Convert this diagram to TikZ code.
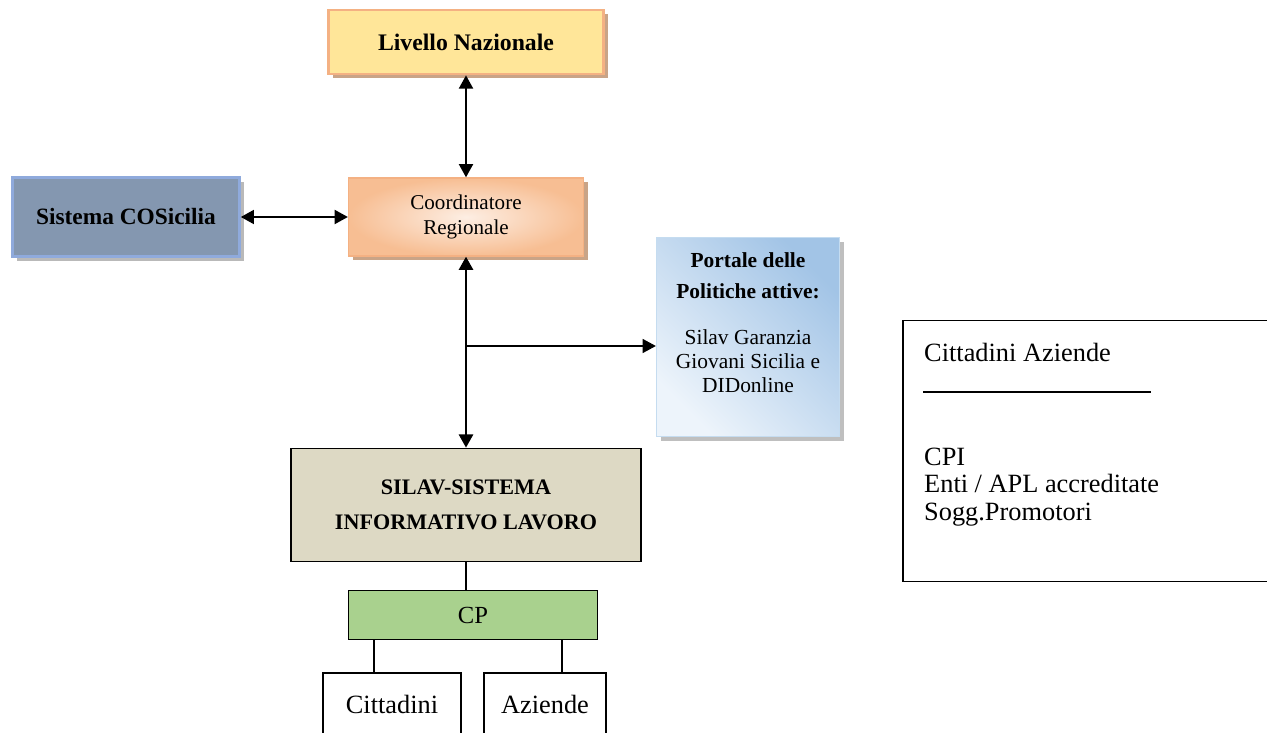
\documentclass[tikz,border=0pt]{standalone}
\usepackage{fontspec}
\setmainfont{Liberation Serif}
\usetikzlibrary{arrows.meta,shadows}
\definecolor{natfill}{HTML}{FFE699}
\definecolor{natline}{HTML}{F4B183}
\definecolor{natshadow}{HTML}{C9A487}
\definecolor{coordout}{HTML}{F7BE93}
\definecolor{coordin}{HTML}{FDEEE3}
\definecolor{cosfill}{HTML}{8497B0}
\definecolor{cosline}{HTML}{8FAADC}
\definecolor{portdark}{HTML}{A2C4E6}
\definecolor{portlight}{HTML}{EDF4FB}
\definecolor{portline}{HTML}{C5DCF0}
\definecolor{silavfill}{HTML}{DDD9C4}
\definecolor{cpfill}{HTML}{A9D18E}

\begin{document}
\begin{tikzpicture}[x=0.02cm,y=-0.02cm,>={Triangle[length=7.5pt,width=8pt]},
	every node/.style={font=\fontsize{12}{14.5}\selectfont},
	box/.style={draw,rectangle,align=center,inner sep=2pt},
	shade box/.style={drop shadow={shadow xshift=2.3pt,shadow yshift=-2.3pt,fill=#1,opacity=1}}]
	\useasboundingbox (0,0) rectangle (1267,733);

	\node(nat)[box,draw=natline,line width=1.6pt,fill=natfill,minimum width=5.5cm,minimum height=1.28cm,shade box=natshadow,font=\bfseries\fontsize{13.5}{15}\selectfont] at (466,42){Livello Nazionale};
	\node(coord)[box,draw=natline,line width=0.8pt,inner color=coordin,outer color=coordout,minimum width=4.7cm,minimum height=1.56cm,shade box=natshadow] at (466,217){Coordinatore\\Regionale};
	\node(cos)[box,draw=cosline,line width=1.5pt,fill=cosfill,minimum width=4.54cm,minimum height=1.58cm,shade box=gray!55,font=\bfseries\fontsize{13.3}{15}\selectfont] at (126,217){Sistema COSicilia};
	\node(portal)[box,draw=portline,line width=0.8pt,left color=portlight,right color=portdark,shading angle=135,minimum width=3.66cm,minimum height=3.98cm,shade box=gray!50] at (748,337){};
	\node(porttxt)[align=center,font=\fontsize{12.2}{13.8}\selectfont] at (748,323){\textbf{Portale delle}\\[3.5pt]\textbf{Politiche attive:}\\[12.5pt]Silav Garanzia\\Giovani Sicilia e\\DIDonline};
	\node(silav)[box,fill=silavfill,line width=1pt,minimum width=7cm,minimum height=2.26cm,font=\bfseries\fontsize{12.6}{20}\selectfont] at (466,505){SILAV-SISTEMA\\INFORMATIVO LAVORO};
	\node(cp)[box,fill=cpfill,line width=1pt,minimum width=4.98cm,minimum height=0.98cm,font=\fontsize{14}{16}\selectfont] at (473,615){CP};
	\node(citt)[box,line width=0.8pt,minimum width=2.76cm,minimum height=1.24cm,font=\fontsize{15}{16}\selectfont] at (392,704){Cittadini};
	\node(az)[box,line width=0.8pt,minimum width=2.44cm,minimum height=1.24cm,font=\fontsize{15}{16}\selectfont] at (545,704){Aziende};

	\node(legend)[draw,line width=0.8pt,minimum width=7.44cm,minimum height=5.22cm] at (1089,451){};
	\node(legtop)[anchor=west,font=\fontsize{15}{15.6}\selectfont] at (918,352){Cittadini Aziende};
	\node(legbot)[anchor=west,align=left,font=\fontsize{15}{15.8}\selectfont] at (918,487){CPI\\Enti / APL accreditate\\Sogg.Promotori};
	\draw[line width=0.8pt] (923,392) -- (1151,392);

	\coordinate (br) at (466,346);
	\draw[<->,line width=1pt] (nat) -- (coord);
	\draw[<->,line width=1pt] (cos) -- (coord);
	\draw[<->,line width=1.4pt] (coord) -- (silav);
	\draw[->,line width=0.6pt] (br) -- (br -| portal.west);
	\draw[line width=1pt] (silav.south) -- (silav.south |- cp.north);
	\draw[line width=1.6pt] ([xshift=-0.36cm]citt.north) -- ([xshift=-0.36cm]citt.north |- cp.south);
	\draw[line width=1pt] ([xshift=0.34cm]az.north) -- ([xshift=0.34cm]az.north |- cp.south);
\end{tikzpicture}
\end{document}
